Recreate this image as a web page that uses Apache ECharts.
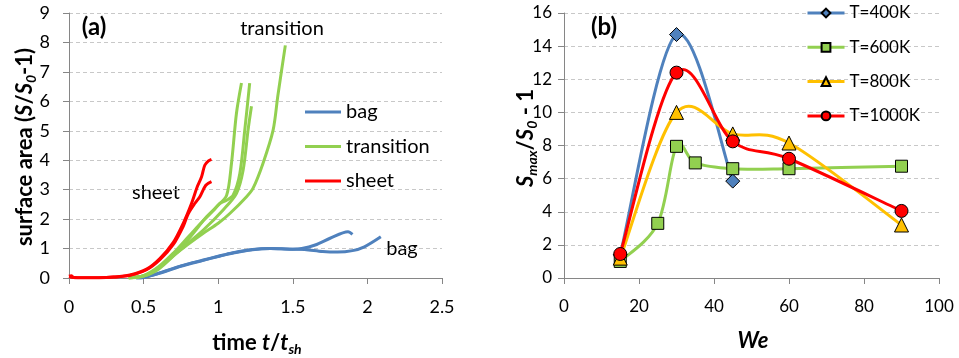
<!DOCTYPE html>
<html><head><meta charset="utf-8">
<script src="https://cdn.jsdelivr.net/npm/echarts@6/dist/echarts.min.js"></script>
<style>html,body{margin:0;padding:0;background:#fff}#c{width:959px;height:358px}</style>
</head><body><div id="c"></div>
<script>
const FONT = 'Lato';
// ---- panel (a): surface area vs time ----
const bag1 = [[0.45,0],[0.5,0.02],[0.6,0.15],[0.75,0.4],[0.9,0.6],[1.0,0.73],[1.1,0.85],[1.23,0.96],[1.35,1.0],[1.5,0.98],[1.56,1.0],[1.65,1.12],[1.75,1.35],[1.87,1.57],[1.9,1.48]];
const bag2 = [[0.45,0],[0.5,0.02],[0.6,0.16],[0.75,0.41],[0.9,0.61],[1.0,0.74],[1.1,0.86],[1.23,0.97],[1.35,1.0],[1.5,0.98],[1.58,0.97],[1.7,0.9],[1.8,0.88],[1.9,0.93],[1.98,1.06],[2.09,1.4]];
const transA = [[0.4,0],[0.5,0.08],[0.6,0.35],[0.676,0.66],[0.8,1.15],[0.9,1.52],[1.0,1.86],[1.078,2.19],[1.19,2.76],[1.234,3.05],[1.3,3.89],[1.368,5.02],[1.4,6.2],[1.45,7.9]];
const transB = [[0.4,0],[0.5,0.07],[0.564,0.2],[0.676,0.7],[0.788,1.25],[0.922,2.08],[0.989,2.42],[1.056,2.8],[1.089,3.89],[1.122,5.58],[1.156,6.62]];
const transC = [[0.4,0],[0.5,0.08],[0.6,0.38],[0.7,0.85],[0.8,1.4],[0.9,1.95],[0.97,2.3],[1.01,2.53],[1.056,2.64],[1.1,2.81],[1.145,3.55],[1.178,5.02],[1.211,6.62]];
const transD = [[0.4,0],[0.5,0.07],[0.6,0.3],[0.743,0.95],[0.9,1.63],[1.033,2.31],[1.122,2.87],[1.167,3.66],[1.2,5.02],[1.223,5.83]];
const sheet1 = [[0,0.06],[0.015,0.08],[0.03,0.02],[0.1,0.01],[0.2,0.01],[0.3,0.03],[0.408,0.1],[0.52,0.3],[0.609,0.66],[0.698,1.2],[0.765,1.85],[0.821,2.53],[0.859,3.09],[0.888,3.43],[0.91,3.83],[0.935,3.98],[0.955,4.03]];
const sheet2 = [[0,0.05],[0.03,0.02],[0.1,0.01],[0.2,0.01],[0.3,0.03],[0.408,0.09],[0.52,0.28],[0.609,0.62],[0.698,1.13],[0.765,1.75],[0.8,2.19],[0.843,2.53],[0.877,2.76],[0.917,3.15],[0.955,3.27]];
// ---- panel (b): Smax/S0-1 vs We ----
const We400 = [15, 30, 45];
const S400 = [1.4, 14.7, 5.85];
const We600 = [15, 25, 30, 35, 45, 60, 90];
const S600 = [1.0, 3.3, 7.95, 6.95, 6.6, 6.6, 6.75];
const We800 = [15, 30, 45, 60, 90];
const S800 = [1.2, 10.0, 8.7, 8.15, 3.2];
const We1000 = [15, 30, 45, 60, 90];
const S1000 = [1.45, 12.4, 8.25, 7.2, 4.05];

const zip = (xs, ys) => xs.map((x, i) => [x, ys[i]]);
const BLUE = '#4F81BD', GREEN = '#92D050', RED = '#FF0000', YEL = '#FFC000';
const AX = '#868686', GRIDC = '#c8c8c8';

function lineA(name, data, color) {
  return { type: 'line', name, data, xAxisIndex: 0, yAxisIndex: 0, smooth: 0.3, symbol: 'none',
    lineStyle: { color, width: 3 }, itemStyle: { color }, silent: true, animation: false };
}
// Excel-style smoothed connector (Bezier through the data points, drawn via axis coords)
function curveB(xs, ys, color) {
  return { type: 'custom', name: '_curve', xAxisIndex: 1, yAxisIndex: 1, data: zip(xs, ys), silent: true,
    encode: { x: 0, y: 1 }, animation: false, clip: false,
    renderItem(params, api) {
      if (params.dataIndex !== 0) return null;
      const p = xs.map((x, i) => api.coord([x, ys[i]]));
      const n = p.length;
      let d = 'M' + p[0][0] + ',' + p[0][1];
      for (let i = 0; i < n - 1; i++) {
        const p0 = p[Math.max(i - 1, 0)], p1 = p[i], p2 = p[i + 1], p3 = p[Math.min(i + 2, n - 1)];
        const c1x = p1[0] + (p2[0] - p0[0]) / 6, c1y = p1[1] + (p2[1] - p0[1]) / 6;
        const c2x = p2[0] - (p3[0] - p1[0]) / 6, c2y = p2[1] - (p3[1] - p1[1]) / 6;
        d += ' C' + c1x + ',' + c1y + ' ' + c2x + ',' + c2y + ' ' + p2[0] + ',' + p2[1];
      }
      return { type: 'path', shape: { pathData: d }, style: { fill: null, stroke: color, lineWidth: 3, lineJoin: 'round', lineCap: 'round' } };
    }
  };
}
function marksB(name, xs, ys, color, symbol, size) {
  return { type: 'line', name, data: zip(xs, ys), xAxisIndex: 1, yAxisIndex: 1, symbol, symbolSize: size,
    showAllSymbol: true, lineStyle: { color, width: 0 },
    itemStyle: { color, borderColor: '#000', borderWidth: 1 }, animation: false };
}
const axisLabel = (size, margin) => ({ fontFamily: FONT, fontSize: size, color: '#000', margin });
const axisLine = { show: true, lineStyle: { color: AX, width: 1 } };
const axisTick = { show: true, length: 6, lineStyle: { color: AX } };
const splitDash = { show: true, lineStyle: { color: GRIDC, type: [4, 3], width: 1 } };

const b = { fontFamily: FONT, fontWeight: 'bold', fontSize: 22, color: '#000', lineHeight: 26, verticalAlign: 'middle' };
const bi = Object.assign({}, b, { fontStyle: 'italic' });
const sub = { fontFamily: FONT, fontWeight: 'bold', fontStyle: 'italic', fontSize: 14, color: '#000', lineHeight: 14, verticalAlign: 'bottom' };
const rich = { b, bi, sub };
const txt = (x, y, s, size, bold) => ({ type: 'text', x, y, style: { text: s, font: (bold ? 'bold ' : '') + size + 'px ' + FONT, fill: '#000', align: 'center', verticalAlign: 'middle' } });

const option = {
  backgroundColor: '#fff',
  animation: false,
  grid: [
    { left: 69, top: 13, width: 373, height: 265, outerBoundsMode: 'none', containLabel: false },
    { left: 564, top: 13, width: 375, height: 265, outerBoundsMode: 'none', containLabel: false }
  ],
  xAxis: [
    { type: 'value', gridIndex: 0, min: 0, max: 2.5, interval: 0.5, splitLine: { show: false }, axisLine, axisTick, axisLabel: axisLabel(18, 20) },
    { type: 'value', gridIndex: 1, min: 0, max: 100, interval: 20, splitLine: { show: false }, axisLine, axisTick, axisLabel: axisLabel(17, 20) }
  ],
  yAxis: [
    { type: 'value', gridIndex: 0, min: 0, max: 9, interval: 1, splitLine: splitDash, axisLine, axisTick, axisLabel: axisLabel(18, 19) },
    { type: 'value', gridIndex: 1, min: 0, max: 16, interval: 2, splitLine: splitDash, axisLine, axisTick, axisLabel: axisLabel(17, 12) }
  ],
  legend: [
    { data: ['bag', 'transition', 'sheet'], orient: 'vertical', left: 305, top: 102, padding: 0, icon: 'rect',
      itemWidth: 36, itemHeight: 3, itemGap: 14.5, textStyle: { fontFamily: FONT, fontSize: 20, color: '#000', lineHeight: 20 }, selectedMode: false },
    { data: ['T=400K', 'T=600K', 'T=800K', 'T=1000K'], orient: 'vertical', left: 806, top: 3, padding: 0,
      itemWidth: 37, itemHeight: 11, itemGap: 14.3, lineStyle: { width: 3 },
      textStyle: { fontFamily: FONT, fontSize: 17, color: '#000', lineHeight: 20 }, selectedMode: false }
  ],
  series: [
    lineA('bag', bag1, BLUE), lineA('bag', bag2, BLUE),
    lineA('transition', transA, GREEN), lineA('transition', transB, GREEN),
    lineA('transition', transC, GREEN), lineA('transition', transD, GREEN),
    lineA('sheet', sheet2, RED), lineA('sheet', sheet1, RED),
    curveB(We400, S400, BLUE), marksB('T=400K', We400, S400, BLUE, 'diamond', 14),
    curveB(We600, S600, GREEN), marksB('T=600K', We600, S600, GREEN, 'rect', 12),
    curveB(We800, S800, YEL), marksB('T=800K', We800, S800, YEL, 'triangle', 14),
    curveB(We1000, S1000, RED), marksB('T=1000K', We1000, S1000, RED, 'circle', 13)
  ],
  graphic: [
    txt(94, 27, '(a)', 24, true),
    txt(604, 27, '(b)', 24, true),
    txt(282, 29, 'transition', 20),
    txt(156, 193, 'sheet', 20),
    txt(402, 249, 'bag', 20),
    { type: 'text', x: 25, y: 147, rotation: Math.PI / 2,
      style: { text: '{b|surface area (}{bi|S}{b|/}{bi|S}{sub|0}{b|-1)}', rich, align: 'center', verticalAlign: 'middle' } },
    { type: 'text', x: 526, y: 138, rotation: Math.PI / 2,
      style: { text: '{bi|S}{sub|max}{b|/}{bi|S}{sub|0}{b| - 1}', rich, align: 'center', verticalAlign: 'middle' } },
    { type: 'text', x: 257, y: 343,
      style: { text: '{b|time }{bi|t}{b|/}{bi|t}{sub|sh}', rich, align: 'center', verticalAlign: 'middle' } },
    { type: 'text', x: 753, y: 341,
      style: { text: '{bi|We}', rich, align: 'center', verticalAlign: 'middle' } }
  ]
};
const chart = echarts.init(document.getElementById('c'), null, { renderer: 'canvas' });
chart.setOption(option);
</script>
</body></html>
